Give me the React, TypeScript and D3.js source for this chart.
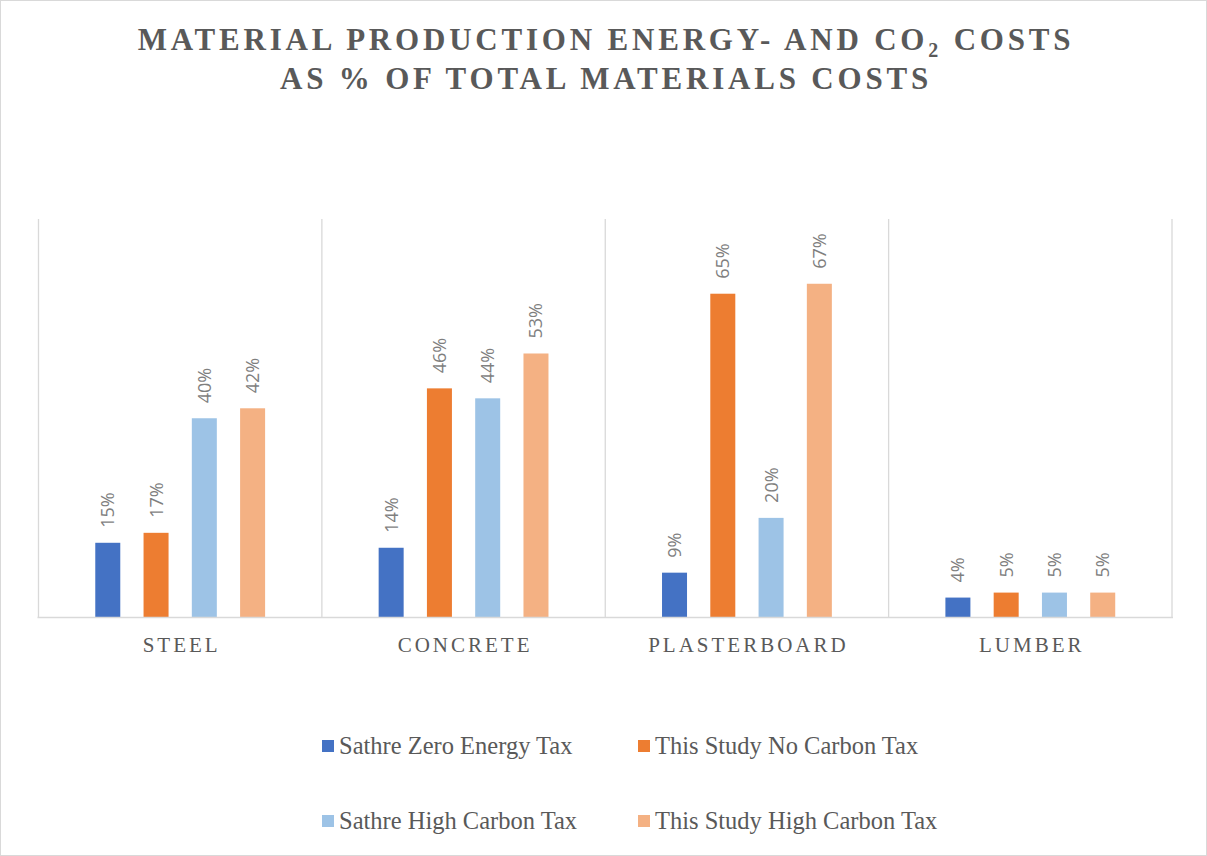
import React from "react";
import * as d3 from "d3";

const categories = ["STEEL", "CONCRETE", "PLASTERBOARD", "LUMBER"];
const seriesNames = [
  "Sathre Zero Energy Tax",
  "This Study No Carbon Tax",
  "Sathre High Carbon Tax",
  "This Study High Carbon Tax",
];
const sathreZero = [0.15, 0.14, 0.09, 0.04];
const studyNoTax = [0.17, 0.46, 0.65, 0.05];
const sathreHigh = [0.4, 0.44, 0.2, 0.05];
const studyHigh = [0.42, 0.53, 0.67, 0.05];
const seriesColors = ["#4472C4", "#ED7D31", "#9DC3E6", "#F4B183"];

const W = 1207;
const H = 856;
const plot = { left: 38.5, right: 1172, top: 219, bottom: 617.5 };

export default function App() {
  const values = [sathreZero, studyNoTax, sathreHigh, studyHigh];
  const x0 = d3.scaleBand<string>().domain(categories).range([plot.left, plot.right]).padding(0);
  const x1 = d3
    .scaleBand<string>()
    .domain(seriesNames)
    .range([0, x0.bandwidth()])
    .paddingInner(0.482)
    .paddingOuter(1.176);
  const y = d3.scaleLinear().domain([0, 0.8]).range([plot.bottom, plot.top]);
  const fmt = d3.format(".0%");
  const boundaries = categories.map((c) => x0(c)!).concat([plot.right]);

  const legendPos = [
    { x: 322, y: 746 },
    { x: 638, y: 746 },
    { x: 322, y: 821 },
    { x: 638, y: 821 },
  ];

  return (
    <div style={{ position: "absolute", left: 0, top: 0 }}>
      <svg width={W} height={H} style={{ display: "block" }}>
        <rect x={0.5} y={0.5} width={W - 1} height={H - 1} fill="#fff" stroke="#D9D9D9" />
        <g
          fontFamily="'Liberation Serif', 'Times New Roman', serif"
          fontWeight="bold"
          fill="#595959"
          textAnchor="middle"
          fontSize={31}
          letterSpacing={3.8}
        >
          <text x={606} y={49.5}>
            MATERIAL PRODUCTION ENERGY- AND CO
            <tspan fontSize={20} dy={7}>2</tspan>
            <tspan dy={-7}> COSTS</tspan>
          </text>
          <text x={606} y={89}>AS % OF TOTAL MATERIALS COSTS</text>
        </g>

        {boundaries.map((bx, i) => (
          <line key={i} x1={bx} x2={bx} y1={plot.top} y2={plot.bottom} stroke="#D9D9D9" strokeWidth={1.3} />
        ))}

        {categories.map((c, ci) => (
          <g key={c} transform={`translate(${x0(c)},0)`}>
            {seriesNames.map((s, si) => {
              const v = values[si][ci];
              const bx = x1(s)!;
              const top = y(v);
              return (
                <g key={s}>
                  <rect
                    x={bx}
                    y={top}
                    width={x1.bandwidth()}
                    height={plot.bottom - top}
                    fill={seriesColors[si]}
                  />
                  <text
                    transform={`translate(${bx + x1.bandwidth() / 2},${top - 15}) rotate(-90)`}
                    dy="0.36em"
                    fontFamily="'Open Sans', 'Noto Sans', sans-serif"
                    fontSize={18}
                    fill="#7F7F7F"
                  >
                    {fmt(v)}
                  </text>
                </g>
              );
            })}
          </g>
        ))}

        <line x1={plot.left - 1} x2={plot.right + 1} y1={plot.bottom} y2={plot.bottom} stroke="#D9D9D9" strokeWidth={1.5} />

        {categories.map((c) => (
          <text
            key={c}
            x={x0(c)! + x0.bandwidth() / 2 + 1.5}
            y={651.5}
            textAnchor="middle"
            fontFamily="'Liberation Serif', 'Times New Roman', serif"
            fontSize={21}
            letterSpacing={3}
            fill="#595959"
          >
            {c}
          </text>
        ))}

        {seriesNames.map((s, i) => (
          <g key={s} transform={`translate(${legendPos[i].x},${legendPos[i].y})`}>
            <rect x={0} y={-6} width={12} height={12} fill={seriesColors[i]} />
            <text
              x={17}
              y={8.3}
              fontFamily="'Liberation Serif', 'Times New Roman', serif"
              fontSize={24.5}
              fill="#595959"
            >
              {s}
            </text>
          </g>
        ))}
      </svg>
    </div>
  );
}
